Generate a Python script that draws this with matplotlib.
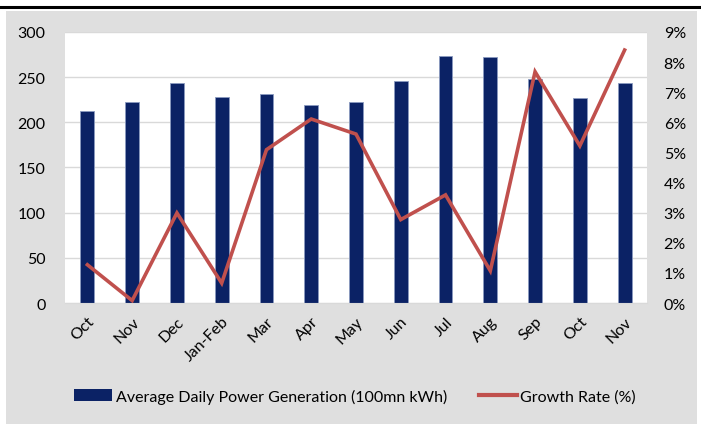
import numpy as np
import matplotlib.pyplot as plt
from matplotlib.patches import Rectangle
from matplotlib.lines import Line2D
from matplotlib.ticker import PercentFormatter

plt.rcParams['font.family'] = ['Lato', 'DejaVu Sans']

months = ['Oct', 'Nov', 'Dec', 'Jan-Feb', 'Mar', 'Apr', 'May', 'Jun',
          'Jul', 'Aug', 'Sep', 'Oct', 'Nov']
generation = [213, 222, 244, 228, 231, 219, 222, 246, 273, 272, 248, 227, 243]
growth = [1.27, 0.08, 2.99, 0.66, 5.09, 6.11, 5.61, 2.77, 3.59, 1.07, 7.68, 5.22, 8.40]

navy = '#0B2265'
red = '#C0504D'
bg = '#DFDFDF'

fig = plt.figure(figsize=(7.01, 4.27), dpi=100)
fig.patch.set_facecolor('white')

# grey panel and black rule on top
fig.add_artist(Rectangle((6 / 701, 2 / 427), 691 / 701, 413 / 427,
                         transform=fig.transFigure, facecolor=bg, edgecolor='none', zorder=0))
fig.add_artist(Line2D([0, 1], [1 - 7.5 / 427] * 2, transform=fig.transFigure,
                      color='black', lw=2.2))

ax = fig.add_axes([65 / 701, 1 - 304 / 427, 582 / 701, 271 / 427])
ax.set_facecolor('white')
x = np.arange(len(months))
ax.bar(x, generation, width=0.31, color=navy, edgecolor='#8A9AC0', linewidth=0.6, zorder=2)
ax.set_ylim(0, 300)
ax.set_yticks(range(0, 301, 50))
ax.set_xlim(-0.5, len(months) - 0.5)
ax.set_xticks(x)
ax.set_xticklabels(months, rotation=45, ha='right', va='top', rotation_mode='anchor')
ax.yaxis.grid(True, color='#D9D9D9', lw=1, zorder=0)
ax.set_axisbelow(True)
for s in ax.spines.values():
    s.set_visible(False)
ax.spines['bottom'].set_visible(True)
ax.spines['bottom'].set_color('#D9D9D9')
ax.tick_params(axis='both', length=0, labelsize=11.5, colors='black')
ax.tick_params(axis='x', pad=8)
ax.tick_params(axis='y', pad=14)

ax2 = ax.twinx()
ax2.plot(x, growth, color=red, lw=2.6, solid_joinstyle='miter', zorder=3)
ax2.set_ylim(0, 9)
ax2.set_yticks(range(0, 10))
ax2.yaxis.set_major_formatter(PercentFormatter(decimals=0))
for s in ax2.spines.values():
    s.set_visible(False)
ax2.tick_params(axis='y', length=0, labelsize=11.5, pad=12)

handles = [Rectangle((0, 0), 1, 1, facecolor=navy, edgecolor='none'),
           Line2D([], [], color=red, lw=3)]
labels = ['Average Daily Power Generation (100mn kWh)', 'Growth Rate (%)']
fig.legend(handles, labels, loc='center', bbox_to_anchor=(355 / 701, 1 - 397 / 427),
           ncol=2, frameon=False, fontsize=11.5, handlelength=2.4, handletextpad=0.2,
           columnspacing=2.0)

fig.savefig('out.png', dpi=100)
